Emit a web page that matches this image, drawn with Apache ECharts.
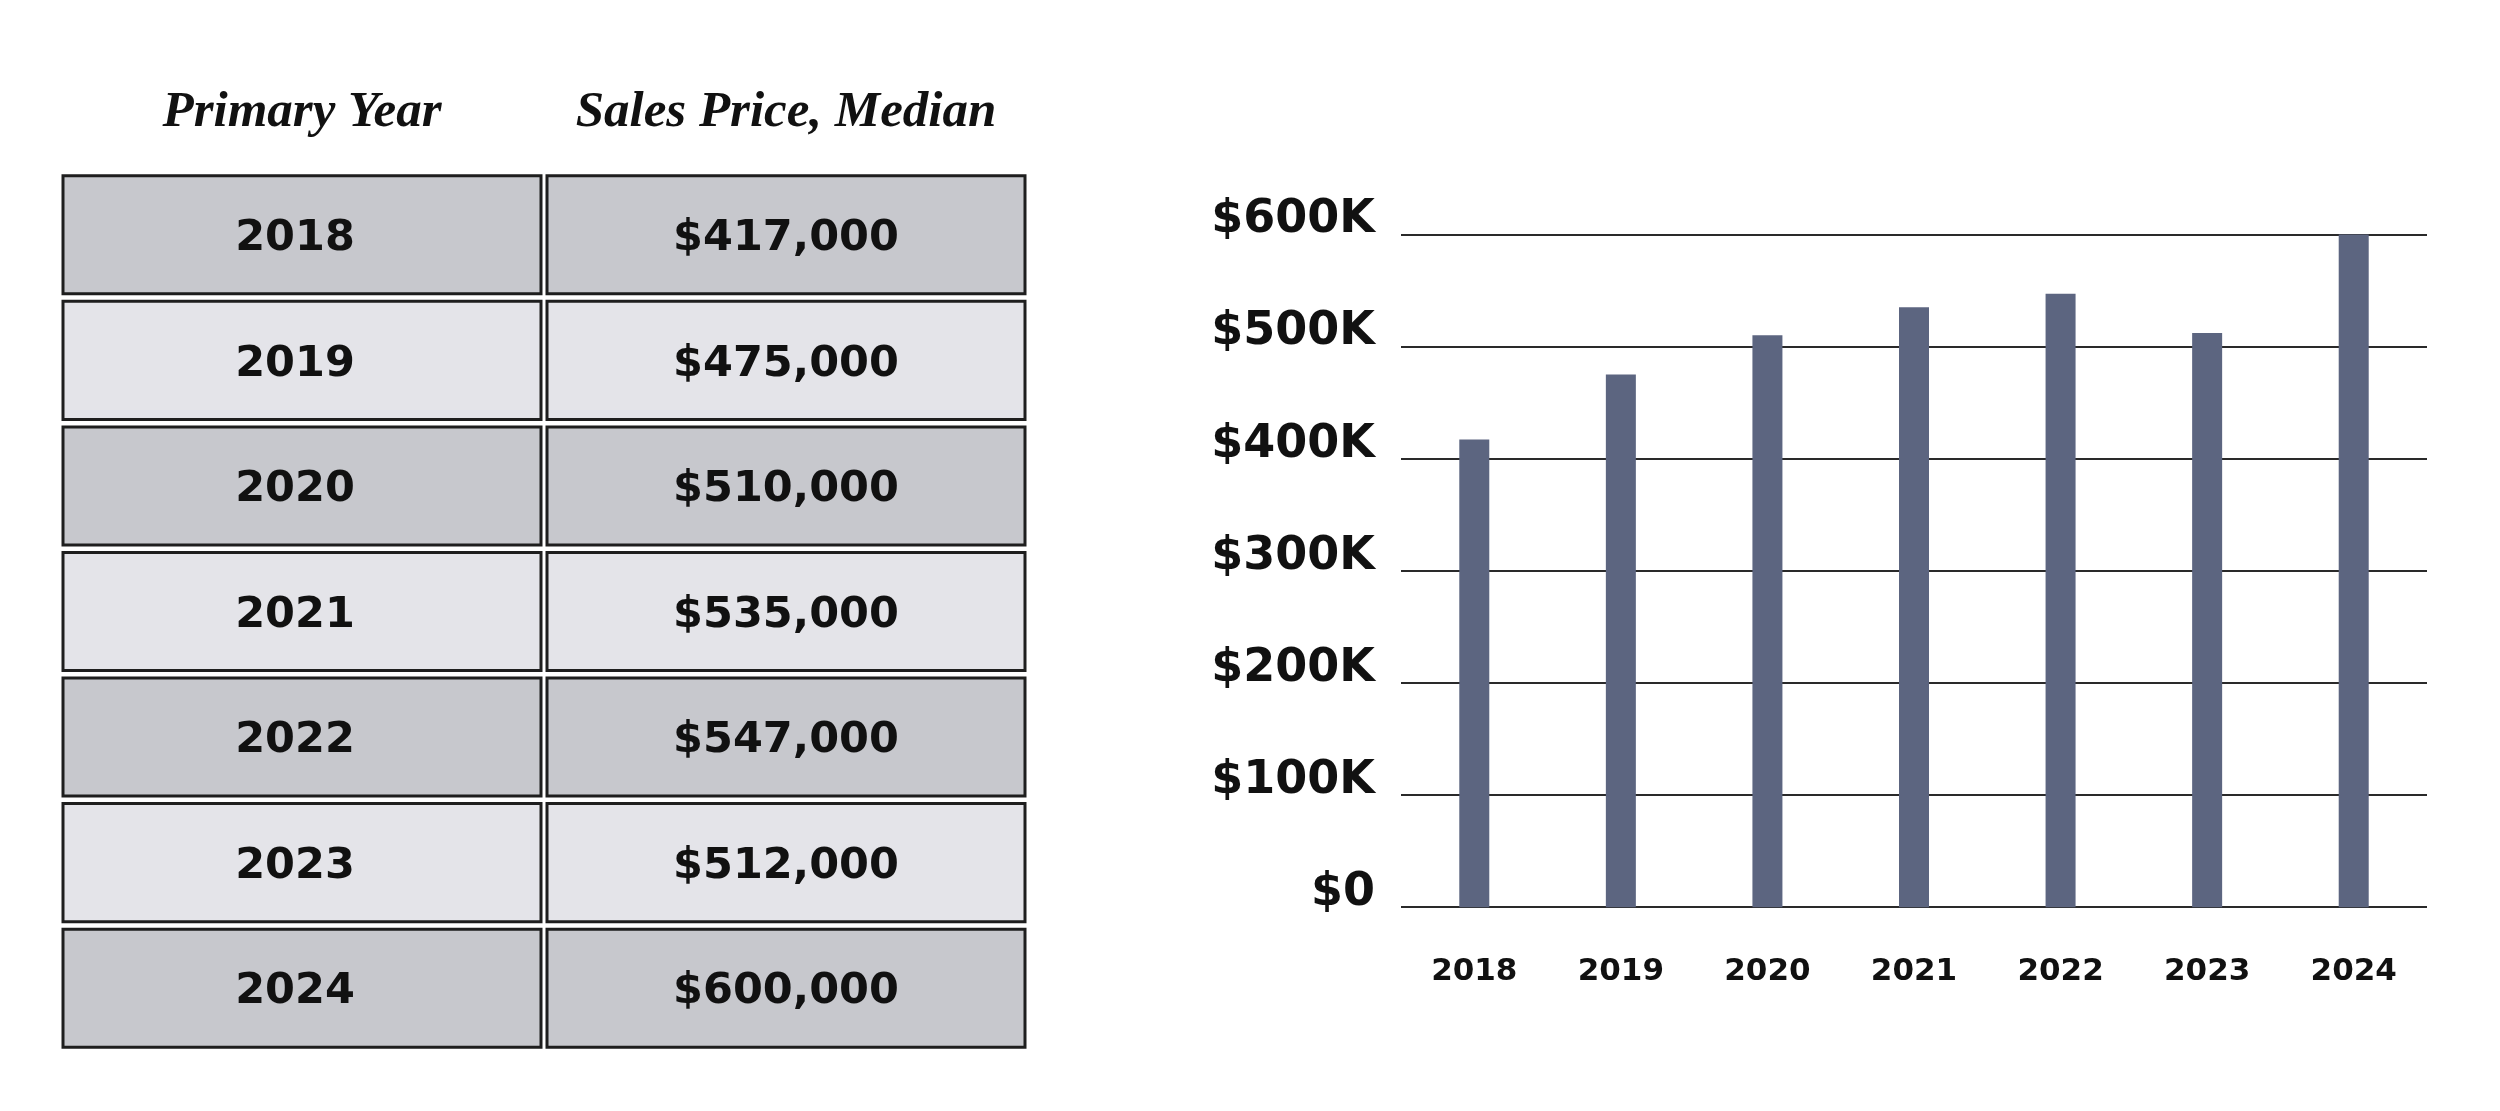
<!DOCTYPE html>
<html><head><meta charset="utf-8">
<script src="https://cdn.jsdelivr.net/npm/echarts@6/dist/echarts.min.js"></script>
<style>html,body{margin:0;padding:0;background:#fff}#c{width:2500px;height:1111px}</style>
</head><body><div id="c"></div>
<script>
const years = ['2018', '2019', '2020', '2021', '2022', '2023', '2024'];
const medianPrices = [417000, 475000, 510000, 535000, 547000, 512000, 600000];
const tableHeaders = ['Primary Year', 'Sales Price, Median'];
const yTickLabels = ['$0', '$100K', '$200K', '$300K', '$400K', '$500K', '$600K'];

const fmtPrice = v => '$' + v.toLocaleString('en-US');
const tableCells = [];
years.forEach((y, i) => { tableCells.push([0, i]); tableCells.push([1, i]); });

const chart = echarts.init(document.getElementById('c'), null, {renderer: 'canvas'});
chart.setOption({
  animation: false,
  backgroundColor: '#ffffff',
  grid: [
    {left: 1401, top: 234.4, width: 1026, height: 672.8},
    {left: 60, top: 172, width: 968, height: 879}
  ],
  xAxis: [
    {
      type: 'category', gridIndex: 0, data: years,
      axisLine: {show: false}, axisTick: {show: false},
      axisLabel: {margin: 49, interval: 0, color: '#111', fontFamily: 'DejaVu Sans', fontWeight: 'bold', fontSize: 31}
    },
    {
      type: 'category', gridIndex: 1, data: tableHeaders, position: 'top',
      axisLine: {show: false}, axisTick: {show: false},
      axisLabel: {margin: 34, interval: 0, hideOverlap: false, color: '#111', fontFamily: 'Liberation Serif', fontStyle: 'italic', fontWeight: 'bold', fontSize: 51}
    }
  ],
  yAxis: [
    {
      type: 'value', gridIndex: 0, min: 0, max: 600000, interval: 100000,
      axisLine: {show: false}, axisTick: {show: false},
      splitLine: {show: true, lineStyle: {color: '#2a2a2a', width: 2}},
      axisLabel: {
        margin: 26, color: '#111', fontFamily: 'DejaVu Sans', fontWeight: 'bold', fontSize: 46,
        verticalAlign: 'bottom', lineHeight: 28,
        formatter: v => yTickLabels[Math.round(v / 100000)]
      }
    },
    {
      type: 'category', gridIndex: 1, data: years, inverse: true, show: false
    }
  ],
  series: [
    {
      type: 'bar', xAxisIndex: 0, yAxisIndex: 0, data: medianPrices,
      barWidth: 30, itemStyle: {color: '#5c6580'}
    },
    {
      type: 'custom', xAxisIndex: 1, yAxisIndex: 1, data: tableCells,
      renderItem: function (params, api) {
        const col = api.value(0), row = api.value(1);
        const c = api.coord([col, row]);
        const s = api.size([1, 1]);
        const w = s[0] - 6, h = s[1] - 7.5;
        const text = col === 0 ? years[row] : fmtPrice(medianPrices[row]);
        return {
          type: 'group',
          children: [
            {type: 'rect', shape: {x: c[0] - w / 2, y: c[1] - h / 2, width: w, height: h},
             style: {fill: row % 2 === 0 ? '#c7c8cd' : '#e4e4e9', stroke: '#1e1e1e', lineWidth: 3}},
            {type: 'text', x: c[0] + (col === 0 ? -7 : 0), y: c[1] + 4,
             style: {text: text, font: 'bold 43px "DejaVu Sans"', fill: '#111', align: 'center', verticalAlign: 'middle'}}
          ]
        };
      }
    }
  ]
});
</script></body></html>
